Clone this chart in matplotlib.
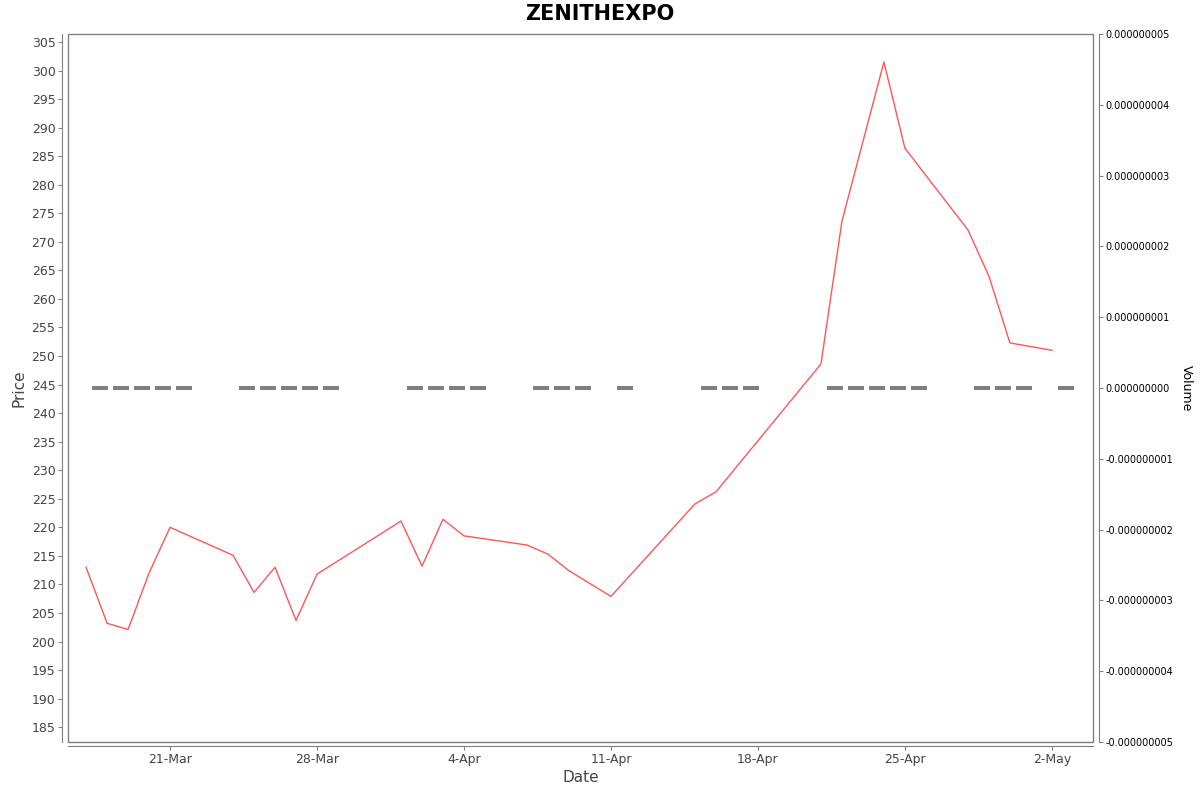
import pandas as pd
import matplotlib
matplotlib.use("Agg")
import matplotlib.pyplot as plt
import matplotlib.dates as mdates
from matplotlib.patches import Rectangle
from matplotlib.ticker import FuncFormatter, MultipleLocator

TITLE = "ZENITHEXPO"

price_dates = ["2025-03-17", "2025-03-18", "2025-03-19", "2025-03-20", "2025-03-21",
               "2025-03-24", "2025-03-25", "2025-03-26", "2025-03-27", "2025-03-28",
               "2025-04-01", "2025-04-02", "2025-04-03", "2025-04-04",
               "2025-04-07", "2025-04-08", "2025-04-09", "2025-04-11",
               "2025-04-15", "2025-04-16",
               "2025-04-21", "2025-04-22", "2025-04-24", "2025-04-25",
               "2025-04-28", "2025-04-29", "2025-04-30", "2025-05-02"]
price = [213.0, 203.2, 202.1, 212.0, 220.0,
         215.1, 208.6, 213.0, 203.7, 211.8,
         221.1, 213.2, 221.4, 218.5,
         216.9, 215.3, 212.4, 207.9,
         224.1, 226.2,
         248.6, 273.6, 301.5, 286.4,
         272.1, 264.0, 252.3, 251.0]

vol_dates = ["2025-03-17", "2025-03-18", "2025-03-19", "2025-03-20", "2025-03-21",
             "2025-03-24", "2025-03-25", "2025-03-26", "2025-03-27", "2025-03-28",
             "2025-04-01", "2025-04-02", "2025-04-03", "2025-04-04",
             "2025-04-07", "2025-04-08", "2025-04-09", "2025-04-11",
             "2025-04-15", "2025-04-16", "2025-04-17",
             "2025-04-21", "2025-04-22", "2025-04-23", "2025-04-24", "2025-04-25",
             "2025-04-28", "2025-04-29", "2025-04-30", "2025-05-02"]
volume = [0] * len(vol_dates)

vol_ticks = [-5e-9, -4e-9, -3e-9, -2e-9, -1e-9, 0, 1e-9, 2e-9, 3e-9, 4e-9, 5e-9]

px = pd.to_datetime(price_dates)
vx = pd.to_datetime(vol_dates) + pd.Timedelta(hours=16)

axis_gray = "#808080"
tick_gray = "#444444"

fig = plt.figure(figsize=(12, 7.92), dpi=100)
ax = fig.add_axes([68/1200, 1 - 742/792, (1093 - 68)/1200, (742 - 34)/792])
ax2 = ax.twinx()

ax2.bar(vx, volume, width=0.79, color=axis_gray, edgecolor=axis_gray, linewidth=2.9)
ax.plot(px, price, color="#ff5555", linewidth=1.0, zorder=3)
ax.set_zorder(ax2.get_zorder() + 1)
ax.patch.set_visible(False)

ax.set_ylim(182.4, 306.4)
ax.set_xlim(pd.Timestamp("2025-03-16 03:20"), pd.Timestamp("2025-05-03 23:00"))
ax2.set_ylim(-5e-9, 5e-9)

ax.yaxis.set_major_locator(MultipleLocator(5))
ax.xaxis.set_major_locator(mdates.WeekdayLocator(byweekday=mdates.FR))
ax.xaxis.set_major_formatter(FuncFormatter(
    lambda v, p: f"{mdates.num2date(v).day}-{mdates.num2date(v).strftime('%b')}"))
ax2.set_yticks(vol_ticks)

def vol_fmt(v, p):
    s = f"{v:.9f}"
    if s == "-0.000000000":
        s = "0.000000000"
    return s

ax2.yaxis.set_major_formatter(FuncFormatter(vol_fmt))

for a in (ax, ax2):
    for side in ("top", "right", "left", "bottom"):
        a.spines[side].set_visible(False)

ax.spines["left"].set_visible(True)
ax.spines["left"].set_position(("outward", 4))
ax.spines["left"].set_color(axis_gray)
ax.spines["bottom"].set_visible(True)
ax.spines["bottom"].set_position(("outward", 3))
ax.spines["bottom"].set_color(axis_gray)
ax2.spines["right"].set_visible(True)
ax2.spines["right"].set_position(("outward", 4))
ax2.spines["right"].set_color(axis_gray)

ax.add_patch(Rectangle((0, 0), 1, 1, transform=ax.transAxes, fill=False,
                       edgecolor=axis_gray, linewidth=1.0, clip_on=False, zorder=5))

ax.tick_params(axis="y", colors=axis_gray, labelcolor=tick_gray, labelsize=9, length=3, pad=2)
ax.tick_params(axis="x", colors=axis_gray, labelcolor=tick_gray, labelsize=9, length=3, pad=2)
ax2.tick_params(axis="y", colors=axis_gray, labelcolor="black", labelsize=7, length=3, pad=2)

ax.set_xlabel("Date", fontsize=11, color=tick_gray, labelpad=3)
ax.set_ylabel("Price", fontsize=11, color=tick_gray, labelpad=4)
ax2.set_ylabel("Volume", fontsize=9, color="black", rotation=-90, labelpad=14)

fig.suptitle(TITLE, fontsize=15, fontweight="bold", y=0.995)

fig.savefig("out.png", dpi=100)
